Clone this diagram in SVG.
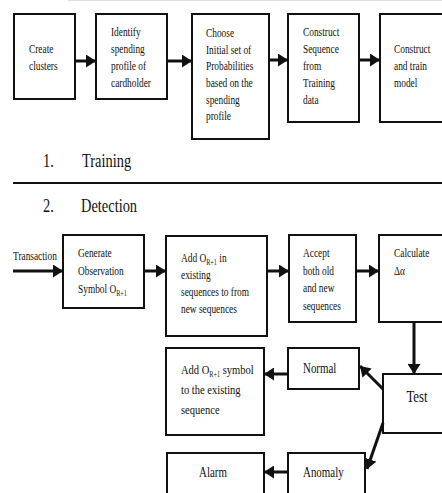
<svg xmlns="http://www.w3.org/2000/svg" width="442" height="493" viewBox="0 0 442 493">
<defs>
<style>
.box{fill:#fff;stroke:#111;stroke-width:2}
text{font-family:'Liberation Serif','Times New Roman',Times,serif}
.t{font-size:12px;fill:#111}
.lg{font-size:14px}
.ttl{font-size:19px}
.cn{stroke:#111;stroke-width:3;fill:none;marker-end:url(#ah)}
.sub{font-size:8px}
</style>
<marker id="ah" markerUnits="userSpaceOnUse" markerWidth="10" markerHeight="13" refX="10" refY="6.5" orient="auto">
<path d="M0,0 L10,6.5 L0,13 z" fill="#111"/>
</marker>
</defs>
<rect width="442" height="493" fill="#fff"/>
<line x1="68" y1="0.5" x2="442" y2="0.5" stroke="#ddd" stroke-width="1"/>
<g font-family="Liberation Serif, Times New Roman, serif">
<g id="n1"><rect class="box" x="14" y="14" width="61" height="85"/>
<text class="t" transform="translate(29,53) scale(0.78,1)"><tspan x="0">Create</tspan><tspan x="0" dy="17">clusters</tspan></text></g>
<g id="n2"><rect class="box" x="96" y="14" width="71" height="85"/>
<text class="t" transform="translate(111,36) scale(0.78,1)"><tspan x="0">Identify</tspan><tspan x="0" dy="17">spending</tspan><tspan x="0" dy="17">profile of</tspan><tspan x="0" dy="17">cardholder</tspan></text></g>
<g id="n3"><rect class="box" x="192" y="14" width="77" height="125"/>
<text class="t" transform="translate(206,37) scale(0.78,1)"><tspan x="0">Choose</tspan><tspan x="0" dy="16.7">Initial set of</tspan><tspan x="0" dy="16.7">Probabilities</tspan><tspan x="0" dy="16.7">based on the</tspan><tspan x="0" dy="16.7">spending</tspan><tspan x="0" dy="16.7">profile</tspan></text></g>
<g id="n4"><rect class="box" x="288" y="14" width="71" height="108"/>
<text class="t" transform="translate(303,36) scale(0.78,1)"><tspan x="0">Construct</tspan><tspan x="0" dy="17">Sequence</tspan><tspan x="0" dy="17">from</tspan><tspan x="0" dy="17">Training</tspan><tspan x="0" dy="17">data</tspan></text></g>
<g id="n5"><rect class="box" x="380" y="14" width="80" height="108"/>
<text class="t" transform="translate(394,53) scale(0.78,1)"><tspan x="0">Construct</tspan><tspan x="0" dy="17">and train</tspan><tspan x="0" dy="17">model</tspan></text></g>

<g id="labels">
<text class="t ttl" transform="translate(43,167) scale(0.76,1)">1.</text>
<text class="t ttl" transform="translate(82,167) scale(0.76,1)">Training</text>
<line x1="13" y1="183" x2="442" y2="183" stroke="#111" stroke-width="2"/>
<text class="t ttl" transform="translate(43,212) scale(0.76,1)">2.</text>
<text class="t ttl" transform="translate(81,212) scale(0.76,1)">Detection</text>
<text class="t" transform="translate(13,260) scale(0.78,1)">Transaction</text>
</g>

<g id="d1"><rect class="box" x="63" y="235" width="81" height="73"/>
<text class="t" transform="translate(78,257) scale(0.78,1)"><tspan x="0">Generate</tspan><tspan x="0" dy="18">Observation</tspan><tspan x="0" dy="18">Symbol O</tspan><tspan class="sub" dy="3">R+1</tspan></text></g>
<g id="d2"><rect class="box" x="166" y="236" width="101" height="100"/>
<text class="t" transform="translate(181,262) scale(0.78,1)"><tspan x="0">Add O</tspan><tspan class="sub" dy="3">R+1</tspan><tspan dy="-3"> in</tspan><tspan x="0" dy="17.5">existing</tspan><tspan x="0" dy="17">sequences to from</tspan><tspan x="0" dy="16.5">new sequences</tspan></text></g>
<g id="d3"><rect class="box" x="289" y="235" width="67" height="87"/>
<text class="t" transform="translate(303,257) scale(0.78,1)"><tspan x="0">Accept</tspan><tspan x="0" dy="17.7">both old</tspan><tspan x="0" dy="17.7">and new</tspan><tspan x="0" dy="17.7">sequences</tspan></text></g>
<g id="d4"><rect class="box" x="379" y="235" width="80" height="87"/>
<text class="t" transform="translate(394,257) scale(0.78,1)"><tspan x="0">Calculate</tspan><tspan x="0" dy="18">Δα</tspan></text></g>
<g id="d5"><rect class="box" x="383" y="374" width="80" height="59"/>
<text class="t" text-anchor="middle" transform="translate(417,402) scale(0.8,1)" style="font-size:16px">Test</text></g>
<g id="d6"><rect class="box" x="288" y="348" width="71" height="41"/>
<text class="t lg" transform="translate(303,373) scale(0.78,1)">Normal</text></g>
<g id="d7"><rect class="box" x="166" y="348" width="98" height="87"/>
<text class="t" style="font-size:13.5px" transform="translate(181,374) scale(0.78,1)"><tspan x="0">Add O</tspan><tspan class="sub" dy="3">R+1</tspan><tspan dy="-3"> symbol</tspan><tspan x="0" dy="20">to the existing</tspan><tspan x="0" dy="20">sequence</tspan></text></g>
<g id="d8"><rect class="box" x="288" y="453" width="77" height="60"/>
<text class="t lg" transform="translate(303,477) scale(0.78,1)">Anomaly</text></g>
<g id="d9"><rect class="box" x="167" y="453" width="97" height="60"/>
<text class="t lg" text-anchor="middle" transform="translate(213,477) scale(0.78,1)">Alarm</text></g>
</g>
<g id="connectors">
<line class="cn" x1="75" y1="61" x2="96" y2="61"/>
<line class="cn" x1="167" y1="61" x2="192" y2="61"/>
<line class="cn" x1="269" y1="60" x2="288" y2="60"/>
<line class="cn" x1="359" y1="60" x2="380" y2="60"/>
<line class="cn" x1="13" y1="271" x2="63" y2="271"/>
<line class="cn" x1="144" y1="271" x2="166" y2="271"/>
<line class="cn" x1="267" y1="271" x2="289" y2="271"/>
<line class="cn" x1="356" y1="271" x2="379" y2="271"/>
<line class="cn" x1="414" y1="322" x2="414" y2="374"/>
<line class="cn" x1="383" y1="389" x2="360" y2="366"/>
<line class="cn" x1="288" y1="374" x2="264" y2="374"/>
<line class="cn" x1="383" y1="423" x2="367" y2="469"/>
<line class="cn" x1="288" y1="472" x2="264" y2="472"/>
</g>
</svg>
